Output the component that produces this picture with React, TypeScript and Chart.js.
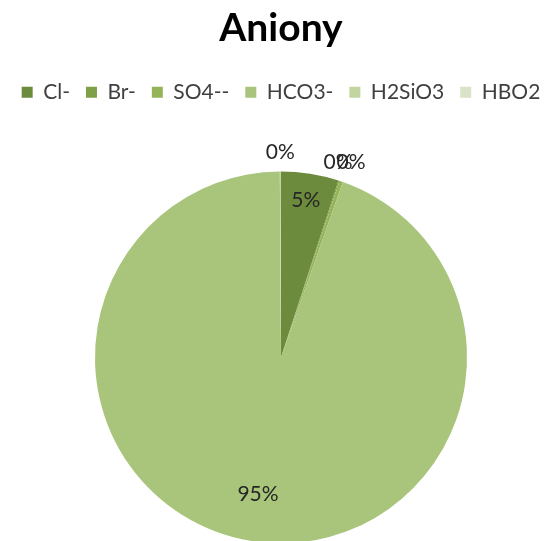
import React, { useEffect, useRef } from "react";
import { Chart, registerables } from "chart.js";

Chart.register(...registerables);

const categories = ["Cl-", "Br-", "SO4--", "HCO3-", "H2SiO3", "HBO2"];
const values = [5.0, 0.1, 0.3, 94.5, 0.1, 0.0];
const colors = ["#6C8B3C", "#7F9F49", "#94B457", "#A9C47B", "#C1D4A1", "#D8E3C7"];
const titleText = "Aniony";

const labelPlugin = {
  id: "pieLabels",
  afterDatasetsDraw(chart: any) {
    const ctx = chart.ctx;
    const meta = chart.getDatasetMeta(0);
    const data = chart.data.datasets[0].data as number[];
    const total = data.reduce((a: number, b: number) => a + b, 0);
    const items: { x: number; y: number; txt: string; out: boolean; skip: boolean }[] = [];
    meta.data.forEach((arc: any, i: number) => {
      const p = arc.getProps(["x", "y", "startAngle", "endAngle", "outerRadius"], true);
      const pct = (data[i] / total) * 100;
      const txt = Math.round(pct) + "%";
      const mid = (p.startAngle + p.endAngle) / 2;
      const out = pct < 3;
      const r = out ? p.outerRadius + 19 : p.outerRadius * (0.86 - 0.12 * pct / 100);
      const it = { x: p.x + Math.cos(mid) * r, y: p.y + Math.sin(mid) * r, txt, out, skip: false };
      if (out) {
        for (const q of items) {
          if (!q.out || q.skip) continue;
          const d = Math.hypot(q.x - it.x, q.y - it.y);
          if (d <= 1.5 && q.txt === it.txt) {
            it.skip = true;
          } else if (d < 24) {
            q.x -= 7;
            it.x = q.x + 13;
            it.y = q.y;
          }
        }
      }
      items.push(it);
    });
    ctx.save();
    ctx.font = "21px Lato";
    ctx.fillStyle = "#262626";
    ctx.textAlign = "center";
    ctx.textBaseline = "middle";
    items.forEach((it) => {
      if (!it.skip) ctx.fillText(it.txt, it.x, it.y);
    });
    ctx.restore();
  },
};

export default function App() {
  const ref = useRef<HTMLCanvasElement>(null);
  useEffect(() => {
    if (!ref.current) return;
    const baseGen = (Chart.overrides as any).pie.plugins.legend.labels.generateLabels;
    const chart = new Chart(ref.current, {
      type: "pie",
      data: {
        labels: categories,
        datasets: [
          {
            data: values,
            backgroundColor: colors,
            borderColor: colors,
            borderWidth: 0,
            radius: 186,
          },
        ],
      },
      options: {
        responsive: false,
        animation: false,
        devicePixelRatio: 1,
        layout: { padding: { left: 4, right: 0, top: 0, bottom: 0 } },
        plugins: {
          title: {
            display: true,
            text: titleText,
            color: "#000000",
            font: { family: "Lato", size: 39, weight: "bold" },
            padding: { top: 5, bottom: 14 },
          },
          legend: {
            position: "top",
            labels: {
              color: "#404040",
              font: { family: "Lato", size: 21 },
              boxWidth: 11,
              boxHeight: 11,
              padding: 16,
              generateLabels: (c: any) =>
                baseGen(c).map((l: any) => ({ ...l, lineWidth: 0, strokeStyle: l.fillStyle })),
            },
          },
          tooltip: { enabled: false },
        },
      },
      plugins: [labelPlugin],
    });
    return () => chart.destroy();
  }, []);
  return (
    <div style={{ position: "fixed", left: 0, top: 0, width: 558, height: 541, overflow: "hidden", background: "#fff" }}>
      <canvas ref={ref} width={558} height={602} />
    </div>
  );
}
